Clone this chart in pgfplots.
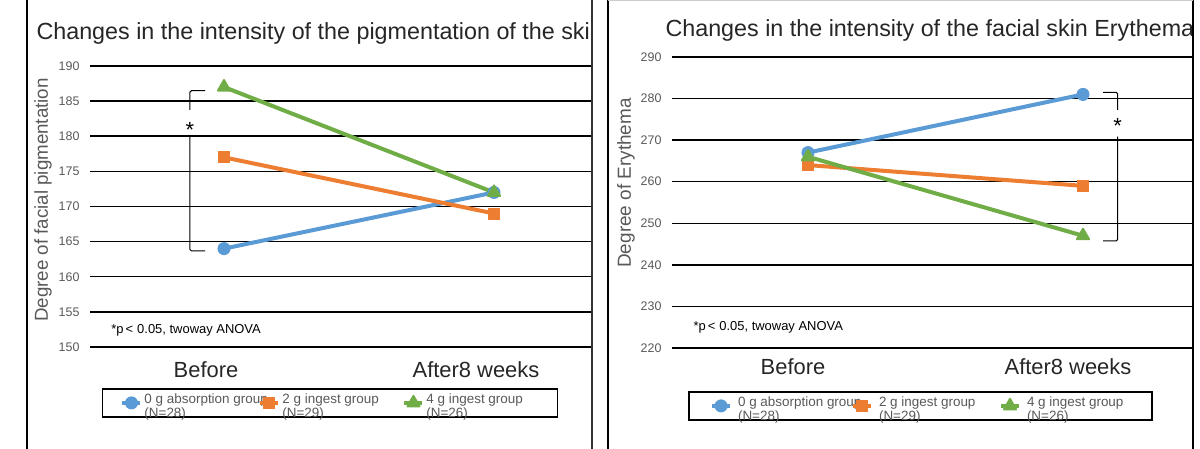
\documentclass[border=0pt]{standalone}
\usepackage{fontspec}
\setmainfont{Liberation Sans}
\usepackage{pgfplots}
\pgfplotsset{compat=1.18}

\definecolor{xblue}{RGB}{91,155,213}
\definecolor{xorange}{RGB}{237,125,49}
\definecolor{xgreen}{RGB}{112,173,71}
\definecolor{tgray}{RGB}{89,89,89}

\pgfplotsset{
  panel/.style={
    scale only axis, clip=false,
    axis line style={draw=none},
    major tick length=0pt,
    xtick={0,1}, xticklabels={Before, After8 weeks},
    xticklabel style={font=\fontsize{22}{22}\selectfont, text=black!85},
    yticklabel style={font=\fontsize{12.5}{12.5}\selectfont, text=tgray, xshift=-7bp},
    /pgf/number format/assume math mode=true,
    ymajorgrids, grid style={black, line width=1.5bp},
    legend columns=3,
    legend style={draw=black, line width=1.5bp, font=\fontsize{13.5}{12}\selectfont,
      text=tgray, anchor=center, inner ysep=3bp},
    legend image code/.code={\draw[mark repeat=2,mark phase=2,#1]
      plot coordinates {(0bp,0bp) (9bp,0bp) (18bp,0bp)};},
  },
  sblue/.style={color=xblue, line width=4bp, mark=*, mark size=6bp,
    mark options={fill=xblue, line width=1bp}},
  sorange/.style={color=xorange, line width=4bp, mark=square*, mark size=5.5bp,
    mark options={fill=xorange, line width=1bp, rounded corners=1.5bp}},
  sgreen/.style={color=xgreen, line width=4bp, mark=triangle*, mark size=7bp,
    mark options={fill=xgreen, line width=2bp, line join=round}},
}

% legend text: fixed width box, two lines that never wrap
\newcommand{\legtext}[3]{\parbox[c]{#1}{\mbox{#2}\\\mbox{#3}}}

\begin{document}
\begin{tikzpicture}[x=1bp,y=1bp]
\path[use as bounding box] (0,0) rectangle (1200,449);

% left panel: pigmentation
\begin{scope}
\clip (27,0) rectangle (592,449);
\node[anchor=west, font=\fontsize{23.4}{23.4}\selectfont, text=black!85] at (33,416)
  {Changes in the intensity of the pigmentation of the skin};
\begin{axis}[panel,
  at={(90bp,102bp)}, anchor=south west,
  width=502bp, height=281bp,
  xmin=-0.4963, xmax=1.363, ymin=150, ymax=190,
  ytick={150,155,...,190},
  xticklabel style={xshift=-18bp, yshift=-11bp},
  ylabel={Degree of facial pigmentation},
  ylabel style={font=\fontsize{18.8}{18.8}\selectfont, text=tgray,
    at={(axis description cs:-0.0936,0.523)}, anchor=center},
  legend style={at={(0.478,-0.199)}, inner xsep=18bp,
    /tikz/every odd column/.append style={column sep=0bp}},
]
\addplot[sblue] coordinates {(0,164) (1,172)};
\addlegendentry{\legtext{112bp}{0 g absorption group}{(N=28)}}
\addplot[sorange] coordinates {(0,177) (1,169)};
\addlegendentry{\legtext{118bp}{2 g ingest group}{(N=29)}}
\addplot[sgreen] coordinates {(0,187) (1,172)};
\addlegendentry{\legtext{111bp}{4 g ingest group}{(N=26)}}
\draw[black, line width=1bp, rounded corners=1.5bp]
  (axis cs:-0.070,186.48) -- (axis cs:-0.126,186.48) -- (axis cs:-0.126,183.74);
\draw[black, line width=1bp, rounded corners=1.5bp]
  (axis cs:-0.126,179.94) -- (axis cs:-0.126,163.67) -- (axis cs:-0.070,163.67);
\node[font=\fontsize{22}{22}\selectfont, yshift=-2bp] at (axis cs:-0.126,181.2) {*};
\node[anchor=west, font=\fontsize{13}{13}\selectfont] at (axis cs:-0.43,152.4)
  {*p\hspace{2bp}<\hspace{4bp}0.05, twoway ANOVA};
\end{axis}
\end{scope}

% right panel: erythema
\begin{scope}
\clip (608,0) rectangle (1193,449);
\node[anchor=west, font=\fontsize{23.4}{23.4}\selectfont, text=black!85] at (662,419)
  {Changes in the intensity of the facial skin Erythema};
\begin{axis}[panel,
  at={(672bp,101bp)}, anchor=south west,
  width=521bp, height=291bp,
  xmin=-0.4945, xmax=1.4, ymin=220, ymax=290,
  ytick={220,230,...,290},
  xticklabel style={xshift=-15bp, yshift=-7bp},
  ylabel={Degree of Erythema},
  ylabel style={font=\fontsize{19}{19}\selectfont, text=tgray,
    at={(axis description cs:-0.0883,0.567)}, anchor=center},
  legend style={at={(0.477,-0.199)}, inner xsep=21bp,
    /tikz/every odd column/.append style={column sep=4bp}},
]
\addplot[sblue] coordinates {(0,267) (1,281)};
\addlegendentry{\legtext{111bp}{0 g absorption group}{(N=28)}}
\addplot[sorange] coordinates {(0,264) (1,259)};
\addlegendentry{\legtext{118bp}{2 g ingest group}{(N=29)}}
\addplot[sgreen] coordinates {(0,266) (1,247)};
\addlegendentry{\legtext{102bp}{4 g ingest group}{(N=26)}}
\draw[black, line width=1bp, rounded corners=1.5bp]
  (axis cs:1.073,281.5) -- (axis cs:1.126,281.5) -- (axis cs:1.126,277.25);
\draw[black, line width=1bp, rounded corners=1.5bp]
  (axis cs:1.126,270.83) -- (axis cs:1.126,245.74) -- (axis cs:1.073,245.74);
\node[font=\fontsize{22}{22}\selectfont, yshift=-2bp] at (axis cs:1.126,273.9) {*};
\node[anchor=west, font=\fontsize{13}{13}\selectfont] at (axis cs:-0.429,225.05)
  {*p\hspace{2bp}<\hspace{4bp}0.05, twoway ANOVA};
\end{axis}
\end{scope}

% panel frames
\draw[black, line width=2.5bp] (27,0) -- (27,449);
\draw[black!80, line width=1.2bp] (592,0) -- (592,449);
\draw[black, line width=2.5bp] (608,0) -- (608,449);
\draw[black, line width=2.5bp] (1193,0) -- (1193,449);
\draw[gray!40, line width=1bp] (608,448.5) -- (1193,448.5);
\end{tikzpicture}
\end{document}
